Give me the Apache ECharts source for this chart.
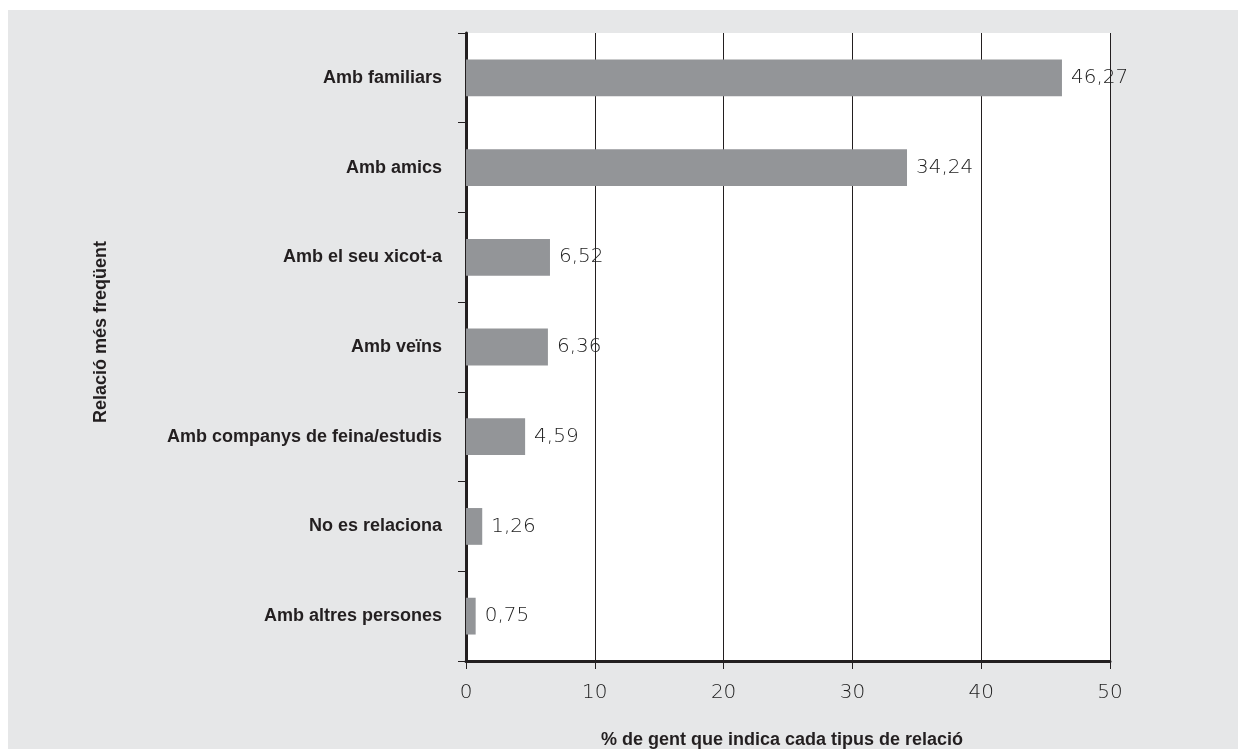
<!DOCTYPE html>
<html>
<head>
<meta charset="utf-8">
<script src="https://cdn.jsdelivr.net/npm/echarts@6/dist/echarts.min.js"></script>
<style>
  html, body { margin: 0; padding: 0; background: #ffffff; }
  #bg { position: absolute; left: 8px; top: 10px; width: 1230px; height: 739px; background: #e6e7e8; }
  #chart { position: absolute; left: 0; top: 0; width: 1238px; height: 749px; }
</style>
</head>
<body>
<div id="bg"></div>
<div id="chart"></div>
<script>
const categories = [
  'Amb familiars',
  'Amb amics',
  'Amb el seu xicot-a',
  'Amb veïns',
  'Amb companys de feina/estudis',
  'No es relaciona',
  'Amb altres persones'
];
const values = [46.27, 34.24, 6.52, 6.36, 4.59, 1.26, 0.75];
const xTicks = { min: 0, max: 50, interval: 10 };
const xTitle = '% de gent que indica cada tipus de relació';
const yTitle = 'Relació més freqüent';

const boldFont = '"Liberation Sans Narrow", "Arial Narrow", "Liberation Sans", sans-serif';
const lightFont = '"DejaVu Sans", sans-serif';
const dark = '#231f20';

const chart = echarts.init(document.getElementById('chart'), null, { renderer: 'canvas' });
chart.setOption({
  backgroundColor: 'transparent',
  animation: false,
  grid: {
    left: 466, top: 33, width: 644, height: 628,
    containLabel: false,
    outerBoundsMode: 'none',
    show: true, backgroundColor: '#ffffff', borderWidth: 0
  },
  xAxis: {
    type: 'value',
    min: xTicks.min, max: xTicks.max, interval: xTicks.interval,
    name: xTitle,
    nameLocation: 'middle',
    nameGap: 70,
    nameTextStyle: { fontFamily: boldFont, fontWeight: 'bold', fontSize: 18, color: dark, padding: [0, 12, 0, 0] },
    axisLine: { show: true, lineStyle: { color: dark, width: 3 } },
    axisTick: { show: true, length: 8, lineStyle: { color: dark, width: 1 } },
    axisLabel: { fontFamily: lightFont, fontWeight: 300, fontSize: 20, color: '#222222', margin: 22 },
    splitLine: { show: true, lineStyle: { color: dark, width: 1 } }
  },
  yAxis: {
    type: 'category',
    data: categories,
    inverse: true,
    name: yTitle,
    nameLocation: 'middle',
    nameRotate: 90,
    nameGap: 356,
    nameTextStyle: { fontFamily: boldFont, fontWeight: 'bold', fontSize: 18, color: dark, padding: [0, 0, 0, 30] },
    axisLine: { show: true, lineStyle: { color: dark, width: 3 } },
    axisTick: { show: true, length: 8, lineStyle: { color: dark, width: 1 } },
    axisLabel: { fontFamily: boldFont, fontWeight: 'bold', fontSize: 18, color: dark, margin: 24, padding: [0, 0, 4, 0] },
    splitLine: { show: false }
  },
  series: [{
    type: 'bar',
    data: values,
    barCategoryGap: '59%',
    itemStyle: { color: '#939598' },
    label: {
      show: true,
      position: 'right',
      distance: 9,
      fontFamily: lightFont,
      fontWeight: 300,
      fontSize: 20,
      color: '#222222',
      formatter: p => p.value.toFixed(2).replace('.', ',')
    }
  }]
});
</script>
</body>
</html>
